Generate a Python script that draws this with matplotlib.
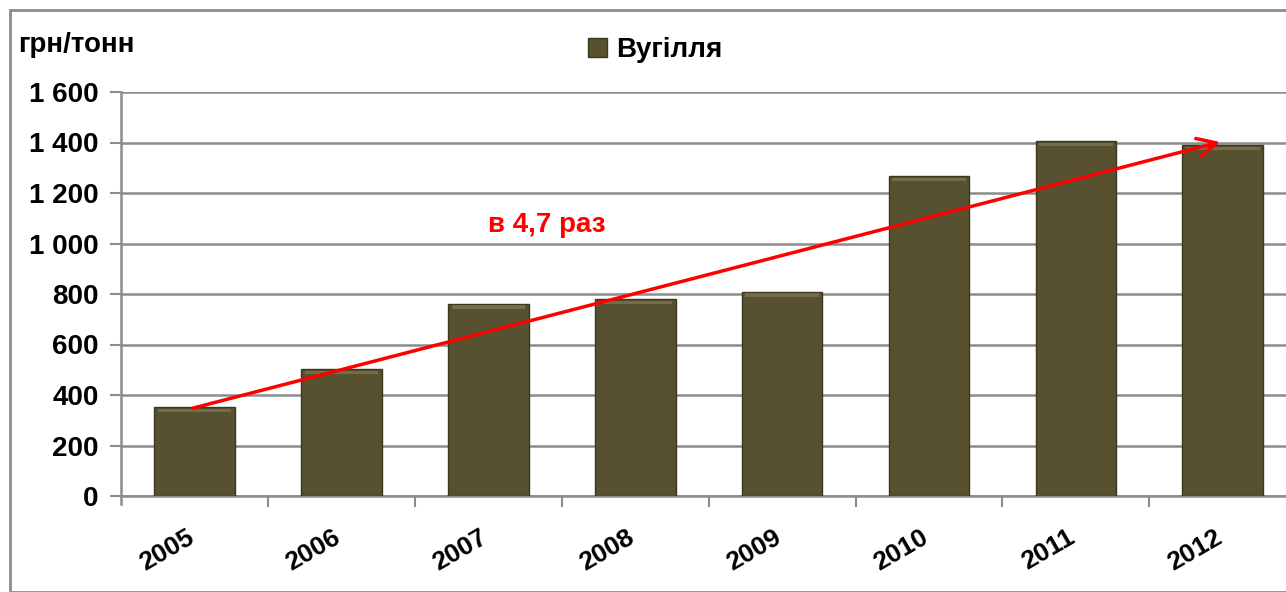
import matplotlib.pyplot as plt
from matplotlib.patches import Rectangle, Patch
from matplotlib.ticker import FuncFormatter

plt.rcParams['font.family'] = ['Liberation Sans', 'DejaVu Sans']

years = ['2005', '2006', '2007', '2008', '2009', '2010', '2011', '2012']
prices = [352, 503, 762, 780, 808, 1267, 1405, 1390]
y_ticks = [0, 200, 400, 600, 800, 1000, 1200, 1400, 1600]
series_name = 'Вугілля'
unit_label = 'грн/тонн'
growth_text = 'в 4,7 раз'

bar_color = '#57512f'

fig = plt.figure(figsize=(12.86, 5.92), dpi=100)
# рамка всей диаграммы
fig.patches.append(Rectangle((10 / 1286, 0), 1.2, 1 - 10 / 592, transform=fig.transFigure,
                             fill=False, edgecolor='#8c8c8c', linewidth=2))

ax = fig.add_axes([121 / 1286, 1 - 496 / 592, 1 - 121 / 1286, 404 / 592])

x = list(range(len(years)))
ax.bar(x, prices, width=0.55, color=bar_color, edgecolor='#3b3721', linewidth=1.0, zorder=3)
# светлая полоска сверху столбцов
ax.bar(x, [14] * len(prices), bottom=[p - 20 for p in prices], width=0.5,
       color='#7f7a55', alpha=0.7, linewidth=0, zorder=4)

ax.set_ylim(0, 1600)
ax.set_xlim(-0.5, 7.43)
ax.set_yticks(y_ticks)
ax.yaxis.set_major_formatter(FuncFormatter(lambda v, p: f'{int(v):,}'.replace(',', ' ')))
ax.set_xticks([i + 0.5 for i in range(len(years) - 1)], minor=False)
ax.set_xticklabels([''] * (len(years) - 1))
# подписи годов немного сдвинуты влево, как в оригинале
ax.set_xticks([i - 0.19 for i in x], minor=True)
ax.set_xticklabels(years, minor=True, rotation=30, ha='center', fontsize=19, fontweight='bold')
ax.tick_params(axis='x', which='minor', length=0, pad=21)
ax.tick_params(axis='x', which='major', length=8, width=1.5, color='#8c8c8c', direction='out')
ax.tick_params(axis='y', length=8, width=1.5, color='#8c8c8c', pad=8,
               labelsize=20)
for lab in ax.get_yticklabels():
    lab.set_fontweight('bold')

ax.grid(axis='y', color='#8c8c8c', linewidth=1.8, zorder=0)
ax.set_axisbelow(True)
for s in ['top', 'right']:
    ax.spines[s].set_visible(False)
ax.spines['left'].set_color('#8c8c8c')
ax.spines['left'].set_linewidth(1.8)
ax.spines['left'].set_bounds(-30, 1600)
ax.spines['bottom'].set_color('#8c8c8c')
ax.spines['bottom'].set_linewidth(1.8)

# стрелка роста
ax.annotate('', xy=(7.0, 1405), xytext=(-0.03, 345),
            arrowprops=dict(arrowstyle='->', color='red', lw=2.5, mutation_scale=34), zorder=6)
ax.text(2.4, 1075, growth_text, color='red', fontsize=20, fontweight='bold',
        ha='center', va='center', zorder=6)

fig.text(18 / 1286, 1 - 45 / 592, unit_label, fontsize=20, fontweight='bold', va='center')

leg = fig.legend(handles=[Patch(facecolor=bar_color, edgecolor='#3b3721')], labels=[series_name],
                 loc='center', bbox_to_anchor=(655 / 1286, 1 - 50 / 592), frameon=False,
                 prop={'size': 20, 'weight': 'bold'}, handlelength=0.7, handleheight=0.7,
                 handletextpad=0.3)

fig.savefig('out.png', dpi=100)
